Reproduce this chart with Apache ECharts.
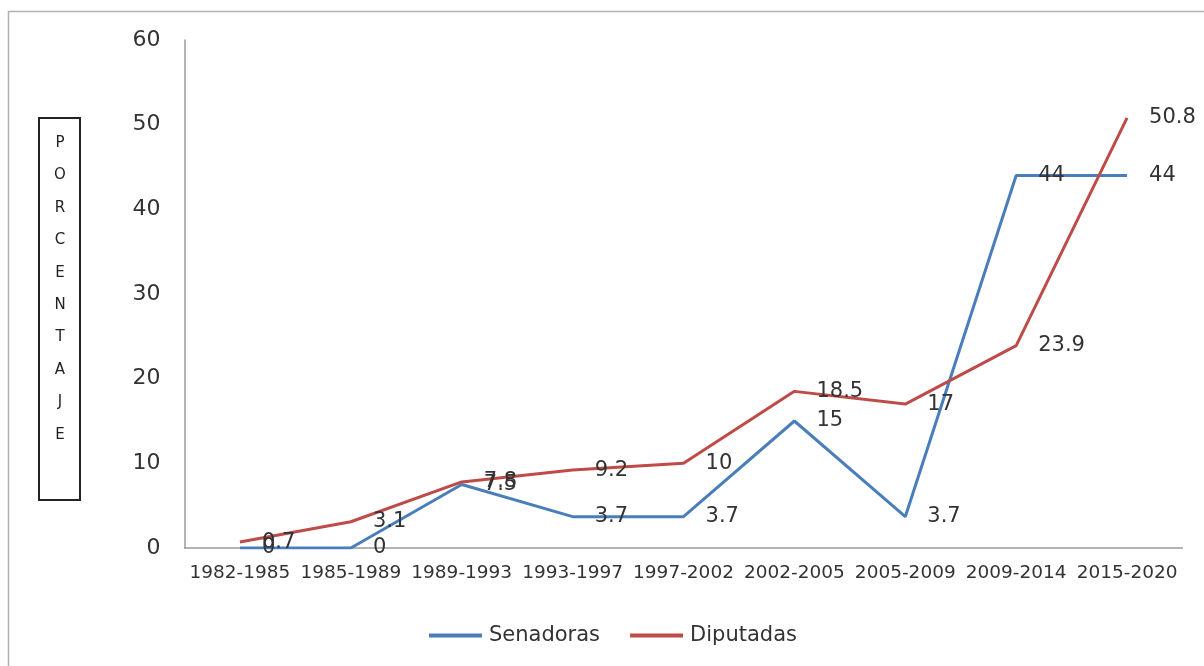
<!DOCTYPE html>
<html>
<head>
<meta charset="utf-8">
<script src="https://cdn.jsdelivr.net/npm/echarts@6/dist/echarts.min.js"></script>
<style>html,body{margin:0;padding:0;background:#fff}#c{width:1204px;height:666px}</style>
</head>
<body>
<div id="c"></div>
<script>
const categories = ['1982-1985','1985-1989','1989-1993','1993-1997','1997-2002','2002-2005','2005-2009','2009-2014','2015-2020'];
const senadoras = [0, 0, 7.5, 3.7, 3.7, 15, 3.7, 44, 44];
const diputadas = [0.7, 3.1, 7.8, 9.2, 10, 18.5, 17, 23.9, 50.8];
const yTitle = 'PORCENTAJE';

const FONT = 'DejaVu Sans';
const chart = echarts.init(document.getElementById('c'));
const labelStyle = {
  show: true, position: 'right', distance: 22,
  color: '#333', fontFamily: FONT, fontSize: 21
};
chart.setOption({
  animation: false,
  backgroundColor: '#fff',
  grid: { left: 184.5, right: 21.5, top: 40, bottom: 118, containLabel: false },
  xAxis: {
    type: 'category', data: categories, boundaryGap: true,
    axisLine: { lineStyle: { color: '#9a9a9a', width: 1.5 } },
    axisTick: { show: false },
    axisLabel: { color: '#333', fontFamily: FONT, fontSize: 18.5, margin: 16, interval: 0 }
  },
  yAxis: {
    type: 'value', min: 0, max: 60, interval: 10,
    axisLine: { show: true, lineStyle: { color: '#9a9a9a', width: 1.5 } },
    axisTick: { show: false },
    splitLine: { show: false },
    axisLabel: { color: '#333', fontFamily: FONT, fontSize: 22, margin: 24 }
  },
  legend: {
    left: 424, top: 620, itemWidth: 53, itemHeight: 4, itemGap: 30,
    icon: 'rect',
    textStyle: { color: '#333', fontFamily: FONT, fontSize: 21, padding: [0,0,0,2] },
    data: ['Senadoras', 'Diputadas']
  },
  series: [
    { name: 'Senadoras', type: 'line', data: senadoras, showSymbol: true, symbol: 'circle', symbolSize: 0.1,
      lineStyle: { color: '#4a7ebb', width: 3 }, itemStyle: { color: '#4a7ebb' },
      label: labelStyle },
    { name: 'Diputadas', type: 'line', data: diputadas, showSymbol: true, symbol: 'circle', symbolSize: 0.1,
      lineStyle: { color: '#be4b48', width: 3 }, itemStyle: { color: '#be4b48' },
      label: labelStyle }
  ],
  graphic: [
    { type: 'rect', shape: { x: 8.5, y: 11.5, width: 1300, height: 700 },
      style: { fill: 'none', stroke: '#b0b0b0', lineWidth: 1.5 }, silent: true },
    { type: 'rect', shape: { x: 39, y: 118, width: 41, height: 382 },
      style: { fill: 'none', stroke: '#222', lineWidth: 2 }, silent: true },
    { type: 'text', x: 60, y: 127,
      style: { text: yTitle.split('').join('\n'), fill: '#222', font: '15px "DejaVu Sans"',
        lineHeight: 32.4, align: 'center', verticalAlign: 'top' }, silent: true }
  ]
});
</script>
</body>
</html>
